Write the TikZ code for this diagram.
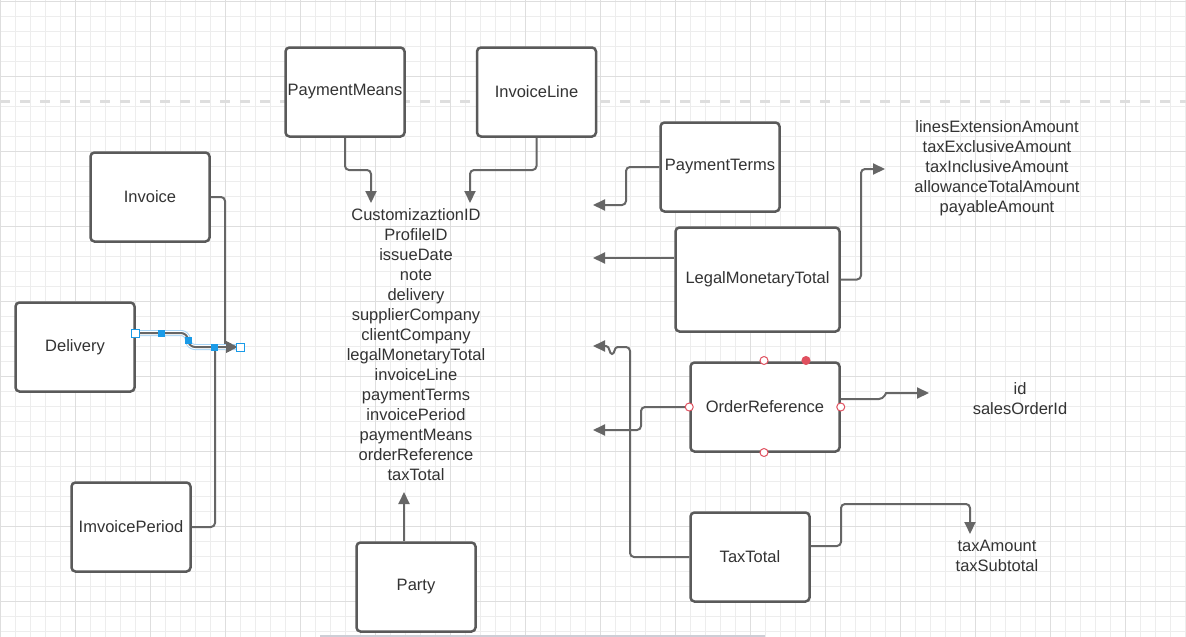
\documentclass[tikz,border=0pt]{standalone}
\usepackage{fontspec}
\setmainfont{Liberation Sans}
\usetikzlibrary{arrows.meta}
\definecolor{gridminor}{HTML}{EDEDED}
\definecolor{gridmajor}{HTML}{DEDEDE}
\definecolor{boxline}{HTML}{5A5A5A}
\definecolor{conn}{HTML}{666666}
\definecolor{txt}{HTML}{333333}
\definecolor{selblue}{HTML}{1A9BE8}
\definecolor{sellight}{HTML}{A8D4F5}
\definecolor{ptred}{HTML}{E0505F}
\begin{document}
\begin{tikzpicture}[x=1pt,y=-1pt,
  entity/.style={draw=boxline, line width=2.5pt, rounded corners=4pt, fill=white,
    minimum width=119pt, minimum height=89pt, inner sep=0pt, text=txt,
    font=\fontsize{16.5}{20}\selectfont},
  field/.style={align=center, text=txt, inner sep=0pt, font=\fontsize{16.5}{20}\selectfont},
  tip/.style={-{Triangle[width=11pt,length=12pt]}},
  link/.style={draw=conn, line width=2pt, rounded corners=4pt, tip},
  plain/.style={draw=conn, line width=2pt, rounded corners=4pt},
  handle/.style={fill=selblue, draw=selblue, minimum size=6pt, inner sep=0pt},
  openhandle/.style={fill=white, draw=selblue, line width=1pt, minimum size=8pt, inner sep=0pt},
  cpoint/.style={circle, draw=ptred, fill=white, line width=1pt, minimum size=8pt, inner sep=0pt}
]
\useasboundingbox (0,0) rectangle (1186,637);
\fill[white] (0,0) rectangle (1186,637);
% grid
\foreach \i in {0,...,79} {\draw[gridminor, line width=1pt] (15*\i,0) -- (15*\i,637);}
\foreach \i in {0,...,42} {\draw[gridminor, line width=1pt] (0,1.7+15*\i) -- (1186,1.7+15*\i);}
\foreach \i in {0,...,15} {\draw[gridmajor, line width=1pt] (75*\i,0) -- (75*\i,637);}
\foreach \i in {0,...,8} {\draw[gridmajor, line width=1pt] (0,1.7+75*\i) -- (1186,1.7+75*\i);}
% page break dashed line
\draw[gridmajor, line width=3pt, dash pattern=on 10pt off 10pt] (0,101) -- (1186,101);
% bottom strip
\draw[color={rgb,255:red,205;green,206;blue,214}, line width=2pt] (320,635.5) -- (765,635.5);

% entities
\node[entity] (PM) at (345,92) {PaymentMeans};
\node[entity] (IL) at (536.5,92) {InvoiceLine};
\node[entity] (Inv) at (150,197) {Invoice};
\node[entity] (Del) at (75,347) {Delivery};
\node[entity] (IP) at (131,527) {ImvoicePeriod};
\node[entity] (Party) at (416,587) {Party};
\node[entity] (PT) at (720,167) {PaymentTerms};
\node[entity, minimum width=164pt, minimum height=104pt] (LMT) at (757.5,279.5) {LegalMonetaryTotal};
\node[entity, minimum width=149pt] (OR) at (765,407) {OrderReference};
\node[entity] (TT) at (750,557) {TaxTotal};

% text blocks
\node[field] (fields) at (416,345) {CustomizaztionID\\ProfileID\\issueDate\\note\\delivery\\supplierCompany\\clientCompany\\legalMonetaryTotal\\invoiceLine\\paymentTerms\\invoicePeriod\\paymentMeans\\orderReference\\taxTotal};
\node[field] (amounts) at (997,168) {linesExtensionAmount\\taxExclusiveAmount\\taxInclusiveAmount\\allowanceTotalAmount\\payableAmount};
\node[field] (ids) at (1020,399) {id\\salesOrderId};
\node[field] (taxes) at (997,556) {taxAmount\\taxSubtotal};

% free ends
\coordinate (tPM) at (371,203);
\coordinate (tIL) at (470,203);
\coordinate (tJoin) at (238,347);
\coordinate (tPT) at (593,205);
\coordinate (tLMT) at (593,258);
\coordinate (tAmt) at (885,169);
\coordinate (tOR) at (593,430);
\coordinate (tIds) at (929,393);
\coordinate (tTT) at (593,346);
\coordinate (tTax) at (970,534);
\coordinate (tParty) at (404,492);

% connectors
\draw[link] (PM.south) -- (345,170) -- (tPM |- 0,170) -- (tPM);
\draw[link] (IL.south) -- (536.5,170) -- (tIL |- 0,170) -- (tIL);
\draw[link] (Inv.east) -- (225,197) -- (225,347) -- (tJoin);
\draw[link] (IP.east) -- (215,527) -- (215,347) -- (tJoin);
% selected Delivery connector
\draw[sellight, line width=6pt, rounded corners=6pt] (Del.east |- 0,333) -- (187,333) -- (189,347) -- (tJoin);
\draw[white, line width=4pt, rounded corners=6pt] (Del.east |- 0,333) -- (187,333) -- (189,347) -- (tJoin);
\draw[link, rounded corners=6pt] (Del.east |- 0,333) -- (187,333) -- (189,347) -- (tJoin);
\node[handle] (h1) at (161,333) {};
\node[handle] (h2) at (188,340) {};
\node[handle] (h3) at (214,347) {};
\node[openhandle] (h0) at (Del.east |- 0,333) {};
\node[openhandle] (h4) at (240,347) {};

\draw[link] (PT.west) -- (626,167) -- (626,205) -- (tPT);
\draw[link] (LMT.west |- tLMT) -- (tLMT);
\draw[link] (LMT.east) -- (861,279.5) -- (861,169) -- (tAmt);
\draw[link] (OR.west) -- (641,407) -- (641,430) -- (tOR);
\draw[link] (OR.east |- 0,399) -- (883,399) [sharp corners] -- (886,393) -- (tIds);
\draw[plain] (TT.west) -- (630,557) -- (630,347) -- (617,347);
\draw[draw=conn, line width=2pt, tip]
  (617.5,347) .. controls (614,347) and (615,354) .. (612,354)
  .. controls (609,354) and (610,346) .. (606,346) -- (tTT);
\draw[link] (TT.east |- 0,546) -- (841,546) -- (841,504) -- (tTax |- 0,504) -- (tTax);
\draw[link] (Party.north -| tParty) -- (tParty);

% connection points on OrderReference
\node[cpoint] (c1) at (764,360.5) {};
\node[cpoint, fill=ptred] (c2) at (806,360.5) {};
\node[cpoint] (c3) at (OR.west) {};
\node[cpoint] (c4) at (OR.east) {};
\node[cpoint] (c5) at (764,452.5) {};
\end{tikzpicture}
\end{document}
